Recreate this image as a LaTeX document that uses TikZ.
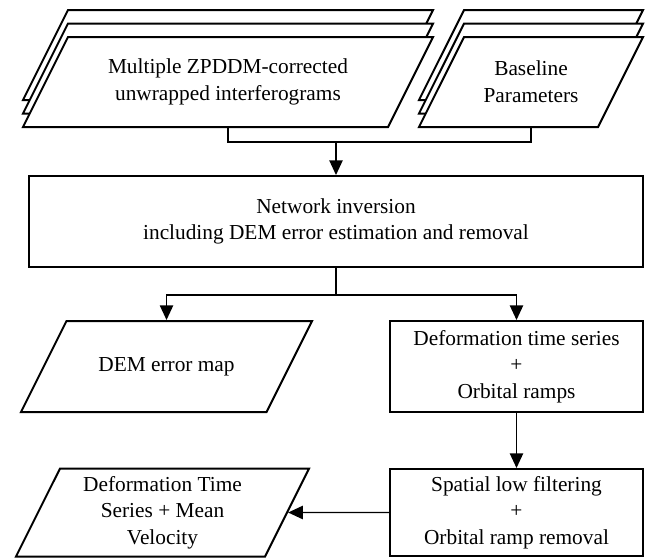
\documentclass[tikz,border=0pt]{standalone}
\usepackage{fontspec}
\setmainfont{Liberation Serif}
\usepackage{tikz}
\usetikzlibrary{positioning, arrows.meta, shapes.geometric}

% fixed-size text box for the slanted data nodes
\newcommand{\datatxt}[3]{\parbox[c][#2][c]{#1}{\centering\mbox{}#3}}

\begin{document}
\begin{tikzpicture}[
    x=0.75pt, y=-0.75pt,
    block/.style={rectangle, draw, line width=1.5pt, fill=white, align=center, inner sep=0pt, font=\fontsize{16}{20}\selectfont},
    data/.style={trapezium, trapezium left angle=63.43, trapezium right angle=116.57, draw, line width=1.5pt, fill=white, inner sep=0pt, font=\fontsize{16}{20}\selectfont},
    arrow/.style={-{Triangle[length=11pt, width=10pt]}, line width=1pt},
    link/.style={line width=1pt}
]
    \useasboundingbox (0,0) rectangle (645,558);

    % Input stacks
    \node[data] (inter3) at (228,55) {\datatxt{240pt}{67.5pt}{}};
    \node[data] (inter2) at (228,68.5) {\datatxt{240pt}{67.5pt}{}};
    \node[data] (inter) at (228,82) {\datatxt{240pt}{67.5pt}{Multiple ZPDDM-corrected\\unwrapped interferograms}};
    \node[data] (base3) at (531,55) {\datatxt{100.5pt}{67.5pt}{}};
    \node[data] (base2) at (531,68.5) {\datatxt{100.5pt}{67.5pt}{}};
    \node[data] (base) at (531,82) {\datatxt{100.5pt}{67.5pt}{Baseline\\Parameters}};

    % Processing
    \node[block, minimum width=460.5pt, minimum height=68.25pt] (net) at (336,221.5) {Network inversion\\including DEM error estimation and removal};
    \node[data] (dem) at (166.5,366.5) {\datatxt{150pt}{68.25pt}{DEM error map}};
    \node[block, minimum width=189.75pt, minimum height=68.25pt] (defo) at (516.5,366.5) {Deformation time series\\+\\Orbital ramps};
    \node[block, minimum width=189.75pt, minimum height=65.25pt] (filt) at (516.5,512.5) {Spatial low filtering\\+\\Orbital ramp removal};
    \node[data] (vel) at (162.5,512.5) {\datatxt{153.75pt}{66pt}{Deformation Time\\Series + Mean\\Velocity}};

    % Connectors
    \path (net.north) ++(0,-33) coordinate (join);
    \path (net.south) ++(0,27) coordinate (split);
    \draw[link] (inter.south) |- (join) -| (base.south);
    \draw[arrow] (join) -- (net.north);
    \draw[link] (net.south) -- (split);
    \draw[arrow] (split) -| (dem.north);
    \draw[arrow] (split) -| (defo.north);
    \draw[arrow] (defo) -- (filt);
    \draw[arrow] (filt) -- (vel);

\end{tikzpicture}
\end{document}
